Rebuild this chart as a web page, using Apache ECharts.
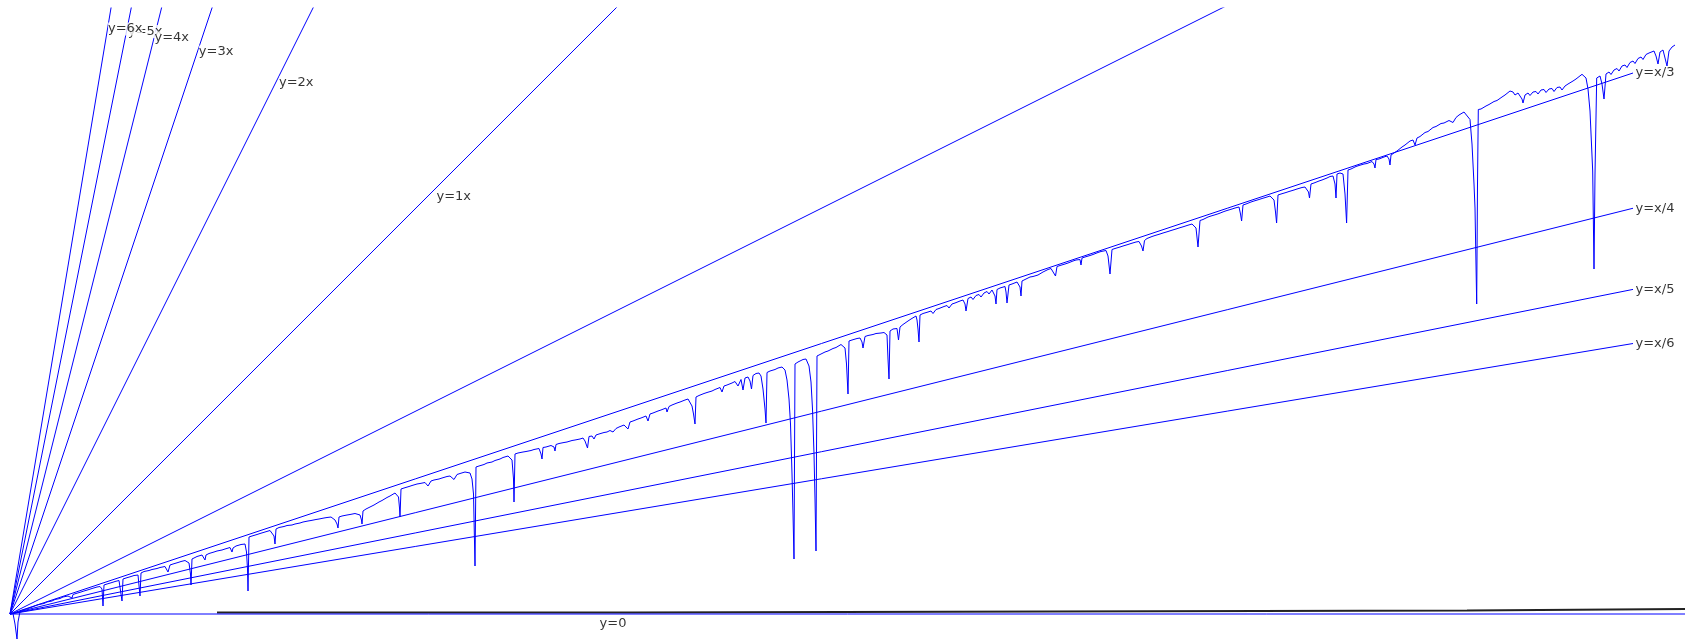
<!DOCTYPE html>
<html><head><meta charset="utf-8">
<script src="https://cdn.jsdelivr.net/npm/echarts/dist/echarts.min.js"></script>
<style>html,body{margin:0;padding:0;background:#fff;}#c{width:1685px;height:641px;}</style>
</head><body><div id="c"></div>
<script>
// reference lines y = k*x
const refSlopes = [6, 5, 4, 3, 2, 1, 1/2, 1/3, 1/4, 1/5, 1/6, 0];
const refEndX   = [1623, 1623, 1623, 1623, 1623, 1623, 1623, 1623, 1623, 1623, 1623, 1675];
// labels of the reference lines (text, x position on the line, slope, placement)
const labelText  = ['y=5x', 'y=6x', 'y=4x', 'y=3x', 'y=2x', 'y=1x', 'y=x/3', 'y=x/4', 'y=x/5', 'y=x/6', 'y=0'];
const labelX     = [116.5, 97.5, 144, 187.3, 265.5, 417, 1623, 1623, 1623, 1623, 603];
const labelSlope = [5, 6, 4, 3, 2, 1, 1/3, 1/4, 1/5, 1/6, 0];
const labelPos   = ['right', 'right', 'right', 'right', 'right', 'right', 'right', 'right', 'right', 'right', 'bottom'];
const labelDist  = [1, 0, 0, 1, 3, 9, 2, 2, 2, 2, 3];
// black step line just above y=0
const stepPoints = [[207, 1.5], [623, 1.5], [623, 3.5], [1457, 3.5], [1457, 5], [1675, 5]];
// the measured curve
const curvePoints = [
[0,0],[3,0.5],[5,-10],[7,-25],[8,-8],[10,2.5],[13,4],[15,2.5],[18,5.5],[21,6.5],[23,5],[26,8.5],[29,9.5],[31,7.5],[34,10.5],[37,12],[39,10],[42,13],[45,14.5],[47,12.5],[50,15.5],[53,17],[55,15],[58,18],[60,19],[62,16],[63,19.5],
[66,20.5],[68,19],[71,22],[74,23],[76,21],[79,24.5],[82,25.5],[84,23.5],[87,27],[90,27.5],[92,25],[93,8],[94,29],
[97,30],[99,28.5],[102,31.5],[105,32.5],[107,31],[109,33.5],[111,32],[112,13],[113,35],
[116,36],[118,34.5],[121,37.5],[124,38.5],[126,37],[128,39],[129,37],[130,18],[131,41],
[134,42.5],[136,40.5],[139,43.5],[142,44.5],[144,42.5],[147,45.5],[150,46.5],[152,44.5],[155,47.5],[157,46],[158,42],[160,49],[163,50],[165,48.5],[168,51.5],[171,52.5],[173,50.5],[175,53.5],[177,54],[179,51],[180.5,40],[181,29],[182,55],
[184,56.5],[187,57.5],[189,55.5],[192,59],[194,57],[195,54],[196,59],[199,60.5],[201,58.5],[204,62],[207,63],[209,61],[212,64],[215,65],[217,63],[220,66.5],[222,62],[223,66],[226,68],[228,66],[231,69.5],[233,71],[235,70],[236.5,62],[237.5,45],[238,23],[239,77],
[242,78],[244,76.5],[247,79.5],[250,80.5],[252,78.5],[255,82],[257,83],[260,83.5],[262,82],[264,78],[265,70],[266,85],
[269,86.5],[271,85],[274,87.5],[277,88.5],[279,86.5],[282,89],[285,90],[287,88],[290,91],[293,92],[295,90],[298,93],[301,93.5],[303,91.5],[306,94.5],[309,95],[311,93],[314,96],[317,96.5],[319,94.5],[321,97],[323,96.5],[325,94],[327,90],[328,86],[329,97],
[332,98],[334,96.5],[337,99],[340,99.5],[342,97.5],[345,100.5],[347,100.5],[350,99],[351.5,94],[352,90],[353,103],
[356,105],[358,103.5],[361,107.5],[364,109],[366,107],[369,112],[372,113.5],[374,111.5],[377,116.5],[380,118],[382,116],[385,121],[387,122],[388.5,117],[389.5,106],[390,97],[391,125],
[394,126],[396,124.5],[399,127.5],[402,128.5],[404,126.5],[407,130],[410,130.5],[412,128.5],[415,131.5],[418,128],[421,133],[424,134],[426,132],[429,135],[432,136],[434,134],[437,137.5],[440,138],[442,136],[444,134.5],[447,139.5],[450,140.5],[452,138.5],[455,142],[457,143],[460,141],[462,135],[463.5,120],[465,48],[466,147],
[469,148],[471,146],[474,149.5],[477,151],[479,149],[482,152],[485,153.5],[487,151.5],[490,155],[493,156.5],[495,154.5],[498,158],[500,158],[502,154],[503.5,135],[504,112],[505,160],
[508,161],[510,159.5],[513,162],[516,162.5],[518,160.5],[521,163.5],[524,164.5],[526,162.5],[529,165.5],[531,160],[532,155],[533,166.5],[536,167],[538,165],[541,168.5],[544,167],[545,163],[546,169.5],[549,170.5],[551,168.5],[554,171.5],[557,172],[559,170],[562,173.5],[565,174],[567,172],[570,175],[573,176],[575,173],[577.5,166],[579,177.5],[582,178],[584,175],[585,173],[586,179],[589,180],[591,178],[594,181.5],[597,182],
[600,183.5],[603,182],[606,185.5],[609,187],[611,185],[614,189],[616,189.5],[618,185],[620,192],[623,193],[625,191],[628,195],[631,196],[633,194],[636,198],[638,193],[640,200],[643,201],[645,199],[648,203],[651,204],[653,202],[656,206],[657,202],[659,207.5],[662,209],[664,207],[667,211],[670,212],[672,210],[675,214],[678,215],[680,213],[682,208],[683.5,200],[685,190],[686,217],
[689,218.5],[691,216.5],[694,220.5],[697,221.5],[699,219.5],[702,223],[705,224.5],[707,222.5],[710,226.5],[712,222],[714,228],[717,229],[719,227],[722,231],[725,232.5],[728,228],[731,234.5],[733,224],[735,236],[738,237],[740,233],[741.5,225],[743,238.5],[746,240.5],[749,241],[751,238],[753,225],[755,205],[756,191],[757,241.5],
[760,243],[762,241],[765,244.5],[768,246],[770,244],[772,247],[775,244],[777,234],[779,215],[780.5,190],[782,140],[783,100],[784,55],[785,250],
[788,252],[790,250],[793,254.5],[796,255],[799,248],[801,232],[802.5,205],[804,160],[805,115],[806,63],[807,258],
[810,259.5],[812,258],[815,262],[818,263],[820,261],[823,265.5],[826,266.5],[828,264.5],[831,269.5],[833,270],[835,266],[836.5,250],[838,220],[839,273],
[842,274],[844,272],[847,275.5],[850,276],[852,272],[853,266],[855,277.5],[858,278.5],[860,276.5],[863,279.5],[866,280.5],[868,278.5],[871,281],[874,281.5],[875,281.5],[877,279],[878,255],[879,235],[880,283],
[883,285],[885,283],[887,285.5],[888.5,274],[890,287],[893,289.5],[895,288],[898,293],[901,295],[903,293],[906,298],[907,294],[908,285],[909,272],[910,299],
[913,300.5],[915,298.5],[918,302],[921,303],[923,300.5],[926,304.5],[929,305.5],[931,303.5],[934,307.5],[937,308.5],[939,306],[942,310],[945,311],[947,309],[950,313],[953,314],[955,310],[956,303],[958,315.5],[961,317],[963,314.5],[966,318.5],[969,319.5],[971,317],[974,321],[977,322.5],[979,320],[982,324],[984,323],[985,318],[986,310],[987,324.5],[990,326],[992,324],[995,327.5],[996,322],[997,311],[999,329],[1002,330],[1004,328],[1007,332],[1009,330],[1010,327],[1011,318],[1012,333],[1015,334.5],[1017,332.5],[1020,337],[1023,337.5],[1025,335.5],[1028,339],[1030,340],
[1033,342],[1035,340],[1038,344.5],[1041,345.5],[1043,344],[1045.5,338],[1047,347.5],[1050,348.5],[1052,346.5],[1055,350],[1058,351],[1060,349],[1063,353],[1066,354],[1068,352],[1070,354.5],[1071,349],[1072,356],[1075,357],[1077,355],[1080,358.5],[1083,359.5],[1085,357.5],[1088,361.5],[1091,362.5],[1093,360.5],[1096,363.5],[1098,358],[1100,340],[1102,364.5],[1105,365.5],[1107,363.5],[1110,367],[1113,368],[1115,366],[1118,369.5],[1121,370.5],[1123,368.5],[1126,372],[1129,372.5],[1131.5,368],[1133,363],[1134.5,373.5],[1137,375.5],[1139,373.5],[1142,377.5],[1145,378.5],[1147,376.5],[1150,380],[1153,381],[1155,379],[1158,382.5],[1161,383.5],[1163,381.5],[1166,385],[1169,386],[1171,384],[1174,387.5],[1177,388.5],[1179,386.5],[1182,390],[1184,390.5],[1186,386],[1188,367],[1190,393.5],[1193,394.5],[1195,392.5],[1198,397],[1201,398],[1203,396],[1206,399.5],[1209,400.5],[1211,398.5],[1214,402.5],[1217,403.5],[1219,401.5],[1222,405],[1225,406],[1227,404],[1229,407],[1230.5,400],[1231.6,393],[1233,409],[1236,410],[1238,408],[1241,412],[1244,413],[1246,411],[1249,414.5],[1252,415.5],[1254,413.5],[1257,417],[1260,418],[1262,418],[1264,414],[1265.5,402],[1266.6,391],[1268,419],[1271,420],[1273,418],[1276,421.5],[1279,422.5],[1281,420.5],[1284,424],[1287,425],[1289,423],[1292,426.5],[1295,427],[1297,427],[1298.5,422],[1299.5,416],[1301,430],[1304,431],[1306,429],[1309,433],[1312,434],[1314,432],[1317,436],[1320,437.5],[1323,438],[1325,430],[1326,416],[1327,440],[1330,441],[1333,440],[1335,420],[1336.6,391],[1338,444],[1341,445],[1343,443],[1346,447.5],[1349,448.5],[1351,446.5],[1354,450],[1357,450.5],[1359,448.5],[1362,452.5],[1364,450],[1365,446],[1366,454.5],[1369,455],[1371,453],[1374,457],[1377,458],[1379,455],[1380,449],[1381,459],[1384,461],
[1387,463],[1389,461],[1392,467],[1395,469],[1397,467],[1400,473],[1403,474],[1405,469],[1407,476],[1410,477.5],[1412,475.5],[1415,481.5],[1418,482.5],[1420,480.5],[1423,486.5],[1426,487.5],[1428,485.5],[1431,490.5],[1434,491],[1436,489],[1439,493.5],[1441,493.5],[1443,491.5],[1446,496.5],[1449,499],[1451,497],[1454,502],[1456,503.5],[1460,494.5],[1462,470],[1464,430],[1465,406],[1466.7,310],[1467.5,430],[1468.3,504.5],
[1471,505],[1473,503],[1476,508],[1479,509.5],[1481,507.5],[1484,512.5],[1487,513.5],[1489,511.5],[1492,517],[1495,519],[1497,517],[1500,523],[1503,522],[1505,519],[1508,521],[1510,521],[1512,515],[1513,511],[1515,519],[1518,521],[1520,518.5],[1523,522],[1526,522.5],[1528,520],[1531,524],[1534,524.5],[1536,521.5],[1539,525],[1542,525.5],[1544,522.5],[1547,526.5],[1550,527],[1552,524],[1555,528],[1558,530],[1560,528],[1563,533],[1566,535],[1568,533.5],[1572,539.7],[1576,536],[1578,525],[1580,503],[1582.7,443],[1584,345],[1585,440],[1586.7,536],
[1590,538],[1592,530],[1594,515],[1596,540],[1599,542],[1601,539.5],[1604,544],[1607,545.5],[1609,543],[1612,548],[1615,549],[1617,546.5],[1620,551.5],[1623,553],[1625,550.5],[1628,555.5],[1631,557],[1633,554.5],[1636,559.5],[1639,561],[1641,559],[1644,563],[1646,558],[1648,550],[1650,562],[1653,564],[1655,562],[1657,548],[1659,563],[1662,567],[1665,569]
];

const BLUE = '#0000ff';
const chart = echarts.init(document.getElementById('c'), null, {renderer: 'canvas'});
const series = [];
refSlopes.forEach((k, i) => {
  series.push({
    type: 'line', data: [[0, 0], [refEndX[i], k * refEndX[i]]],
    showSymbol: false, symbol: 'none', clip: true, silent: true,
    lineStyle: {color: BLUE, width: 1}, z: 2
  });
});
series.push({
  type: 'line', data: stepPoints, showSymbol: false, symbol: 'none', clip: true, silent: true,
  lineStyle: {color: '#222', width: 2}, z: 1
});
series.push({
  type: 'line', data: curvePoints, showSymbol: false, symbol: 'none', clip: false, silent: true,
  lineStyle: {color: BLUE, width: 1}, z: 3
});
series.push({
  type: 'scatter', symbolSize: 1, silent: true, z: 10,
  itemStyle: {color: 'rgba(0,0,0,0)'},
  data: labelText.map((t, i) => ({
    value: [labelX[i], labelSlope[i] * labelX[i]],
    label: {
      show: true, formatter: t, position: labelPos[i], distance: labelDist[i],
      color: '#000', fontFamily: 'DejaVu Sans', fontSize: 13,
      backgroundColor: '#fff', padding: [0, 0]
    }
  }))
});
chart.setOption({
  animation: false,
  backgroundColor: '#fff',
  grid: {left: 10, right: 0, top: 8, bottom: 2},
  xAxis: {type: 'value', min: 0, max: 1675, show: false},
  yAxis: {type: 'value', min: -25, max: 606, show: false},
  series: series
});
</script>
</body></html>
